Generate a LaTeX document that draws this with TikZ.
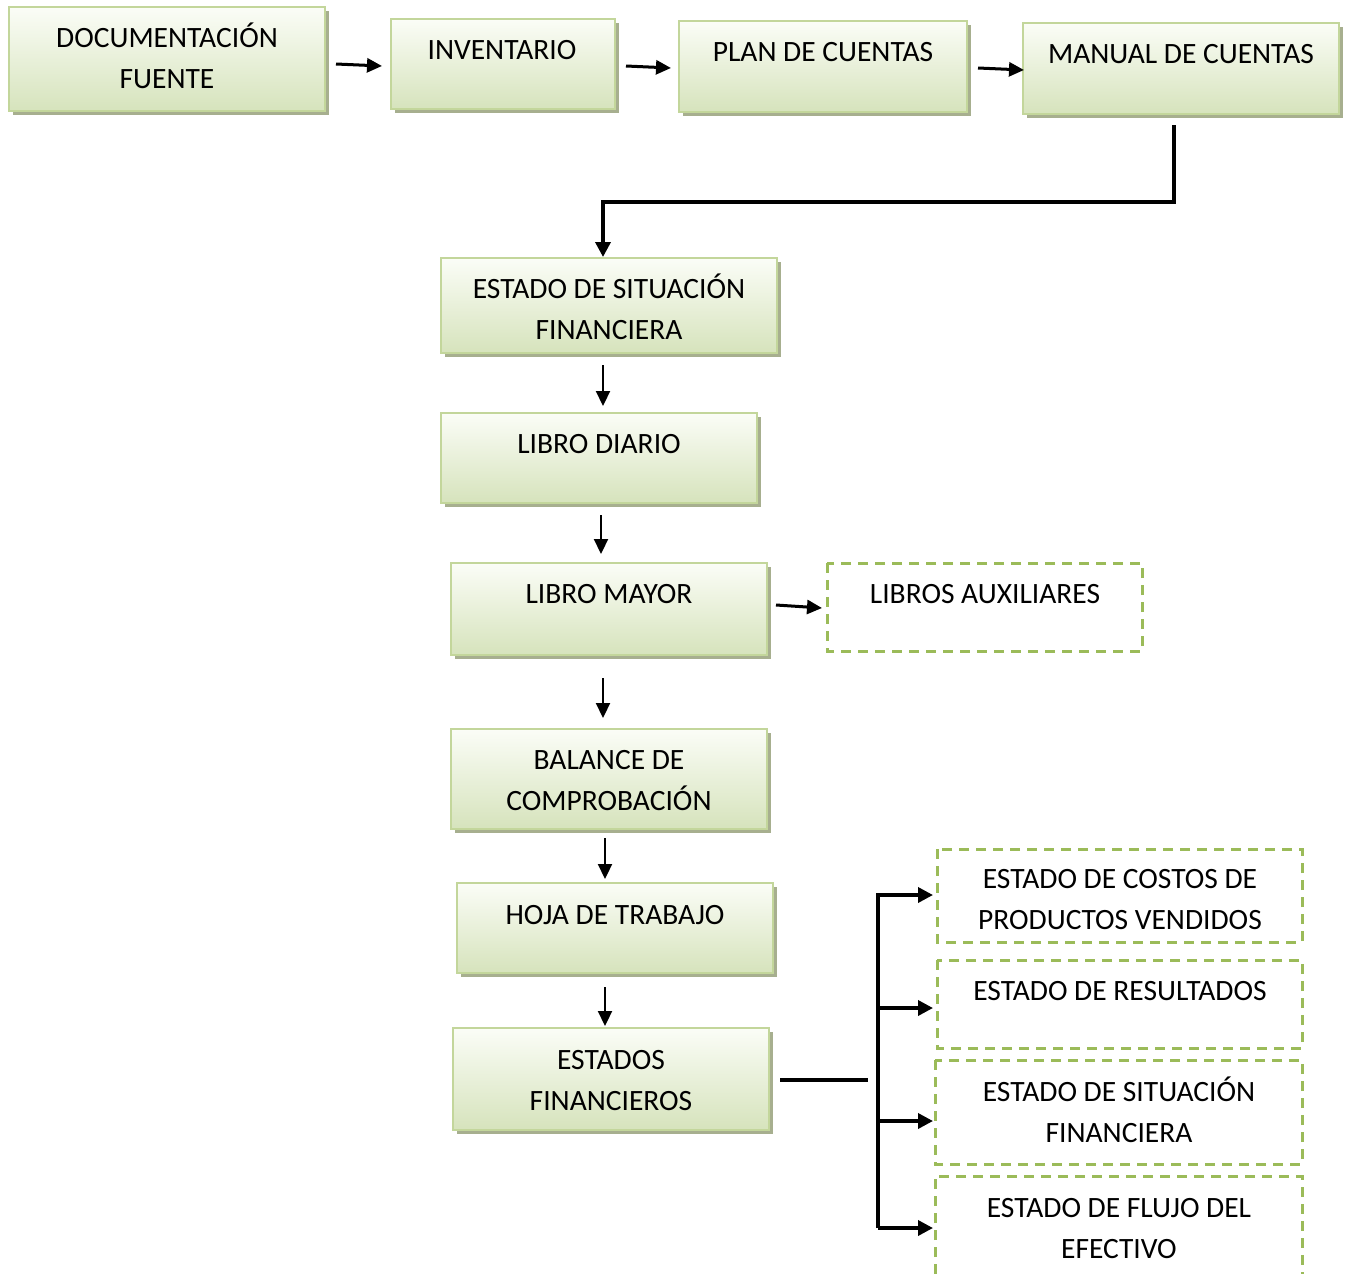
\documentclass[tikz,border=0pt]{standalone}
\usepackage{fontspec}
\setmainfont{Carlito}
\usetikzlibrary{arrows.meta,shadows}
\definecolor{gborder}{HTML}{C3D69B}
\definecolor{gbottom}{HTML}{D6E3BC}
\definecolor{gtop}{HTML}{FBFDF7}
\definecolor{gshadow}{HTML}{A7AF8F}
\definecolor{dgreen}{HTML}{9BBB59}
\tikzset{
  gbox/.style={draw=gborder, line width=2.5pt, top color=gtop, bottom color=gbottom,
    general shadow={shadow xshift=4pt, shadow yshift=-4pt, fill=gshadow}},
  dbox/.style={draw=dgreen, line width=3pt, dash pattern=on 10pt off 7pt},
  lbl/.style={font=\fontsize{29.5}{41}\selectfont, align=center, anchor=base, inner sep=0pt},
  harrow/.style={line width=3pt, -{Triangle[length=15pt,width=14pt]}},
  varrow/.style={line width=2.2pt, -{Triangle[length=15pt,width=14pt]}},
  branch/.style={line width=3.5pt},
  barrow/.style={line width=3.5pt, -{Triangle[length=15pt,width=15pt]}},
}
\begin{document}
\begin{tikzpicture}[x=1pt,y=-1pt]
\useasboundingbox (0,0) rectangle (1349,1274);
% green boxes
\path[gbox] (9,7) rectangle (325,111);
\path[gbox] (391,19) rectangle (615,109);
\path[gbox] (679,21) rectangle (967,112);
\path[gbox] (1023,23) rectangle (1339,114);
\path[gbox] (441,258) rectangle (777,353);
\path[gbox] (441,413) rectangle (757,503);
\path[gbox] (451,563) rectangle (767,655);
\path[gbox] (451,729) rectangle (767,829);
\path[gbox] (457,883) rectangle (773,973);
\path[gbox] (453,1028) rectangle (769,1130);
% dashed boxes
\draw[dbox] (827,563) rectangle (1142,651);
\draw[dbox] (937,849) rectangle (1302,942);
\draw[dbox] (937,960) rectangle (1302,1048);
\draw[dbox] (935,1060) rectangle (1302,1164);
\draw[dbox] (935,1274) -- (935,1176) -- (1302,1176) -- (1302,1274);
% labels (anchor = baseline of last line)
\node[lbl] (t1) at (167,88) {DOCUMENTACIÓN\\FUENTE};
\node[lbl] (t2) at (502,59) {INVENTARIO};
\node[lbl] (t3) at (823,61) {PLAN DE CUENTAS};
\node[lbl] (t4) at (1181,63) {MANUAL DE CUENTAS};
\node[lbl] (t5) at (609,339) {ESTADO DE SITUACIÓN\\FINANCIERA};
\node[lbl] (t6) at (599,453) {LIBRO DIARIO};
\node[lbl] (t7) at (609,603) {LIBRO MAYOR};
\node[lbl] (t8) at (985,603) {LIBROS AUXILIARES};
\node[lbl] (t9) at (609,810) {BALANCE DE\\COMPROBACIÓN};
\node[lbl] (t10) at (615,924) {HOJA DE TRABAJO};
\node[lbl] (t11) at (611,1110) {ESTADOS\\FINANCIEROS};
\node[lbl] (t12) at (1120,929) {ESTADO DE COSTOS DE\\PRODUCTOS VENDIDOS};
\node[lbl] (t13) at (1120,1000) {ESTADO DE RESULTADOS};
\node[lbl] (t14) at (1119,1142) {ESTADO DE SITUACIÓN\\FINANCIERA};
\node[lbl] (t15) at (1119,1258) {ESTADO DE FLUJO DEL\\EFECTIVO};
% connector coordinates
\coordinate (a1s) at (336,64);  \coordinate (a1e) at (382,66);
\coordinate (a2s) at (626,66);  \coordinate (a2e) at (671,68);
\coordinate (a3s) at (978,68);  \coordinate (a3e) at (1024,70);
\coordinate (m0) at (1174,125); \coordinate (m1) at (1174,202);
\coordinate (m2) at (603,202);  \coordinate (m3) at (603,257);
\coordinate (v1s) at (603,365); \coordinate (v1e) at (603,406);
\coordinate (v2s) at (601,515); \coordinate (v2e) at (601,554);
\coordinate (h7s) at (776,605); \coordinate (h7e) at (822,608);
\coordinate (v3s) at (603,678); \coordinate (v3e) at (603,718);
\coordinate (v4s) at (605,838); \coordinate (v4e) at (605,879);
\coordinate (v5s) at (605,987); \coordinate (v5e) at (605,1026);
\coordinate (fs) at (780,1080); \coordinate (fe) at (868,1080);
\coordinate (tr1) at (878,895);  \coordinate (tr4) at (878,1228);
\coordinate (tr2) at (878,1008); \coordinate (tr3) at (878,1121);
\coordinate (b1e) at (933,895); \coordinate (b2e) at (933,1008);
\coordinate (b3e) at (933,1121); \coordinate (b4e) at (933,1228);
% connectors
\draw[harrow] (a1s) -- (a1e);
\draw[harrow] (a2s) -- (a2e);
\draw[harrow] (a3s) -- (a3e);
\draw[barrow, line join=miter] (m0) -- (m1) -- (m2) -- (m3);
\draw[varrow] (v1s) -- (v1e);
\draw[varrow] (v2s) -- (v2e);
\draw[harrow] (h7s) -- (h7e);
\draw[varrow] (v3s) -- (v3e);
\draw[varrow] (v4s) -- (v4e);
\draw[varrow] (v5s) -- (v5e);
\draw[branch] (fs) -- (fe);
\draw[barrow] (tr4) -- (tr1) -- (b1e);
\draw[barrow] (tr2) -- (b2e);
\draw[barrow] (tr3) -- (b3e);
\draw[barrow] (tr4) -- (b4e);
\end{tikzpicture}
\end{document}
